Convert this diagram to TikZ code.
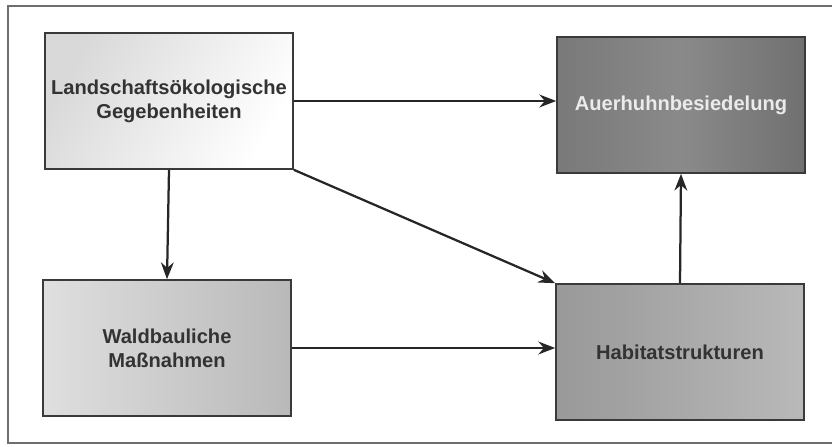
\documentclass[tikz,border=0pt]{standalone}
\usepackage{fontspec}
\setmainfont{Liberation Sans}
\usetikzlibrary{arrows.meta,positioning,shadings}
\definecolor{framegray}{HTML}{6E6E6E}
\definecolor{boxline}{HTML}{3A3A3A}

\begin{document}
\begin{tikzpicture}[x=0.025cm,y=-0.025cm,
        box/.style={draw=boxline,line width=1.1pt,minimum width=6.2cm,minimum height=3.4cm,
          align=center,font=\bfseries\fontsize{14.3}{17}\selectfont,inner sep=2pt},
        arr/.style={-{Stealth[length=4.2mm,width=3.2mm]},draw=black!85,line width=1.6pt}]
        \useasboundingbox (0,0) rectangle (832,446);
        \draw[framegray,line width=0.9pt](832,6)--(8,6)--(8,443)--(832,443);
        \node[box,left color=gray!30,right color=white,shading angle=60,text=black!80](land) at (169,101)
          {Landschaftsökologische\\Gegebenheiten};
        \node[box,left color=gray!95!black,right color=gray!88!black,middle color=gray!92,text=white!92!black](auer) at (681,105)
          {Auerhuhnbesiedelung};
        \node[box,left color=gray!25,right color=gray!55,text=black!80](wald) at (167,348)
          {Waldbauliche\\Maßnahmen};
        \node[box,left color=gray!80,right color=gray!55,text=black!80](habi) at (680,352)
          {Habitatstrukturen};
        \draw[arr](land.east)--(land.east -| auer.west);
        \draw[arr](land.south)--(wald.north);
        \draw[arr](land.south east)--(habi.north west);
        \draw[arr](wald.east)--(wald.east -| habi.west);
        \draw[arr](habi.north)--(auer.south);
      \end{tikzpicture}
\end{document}
